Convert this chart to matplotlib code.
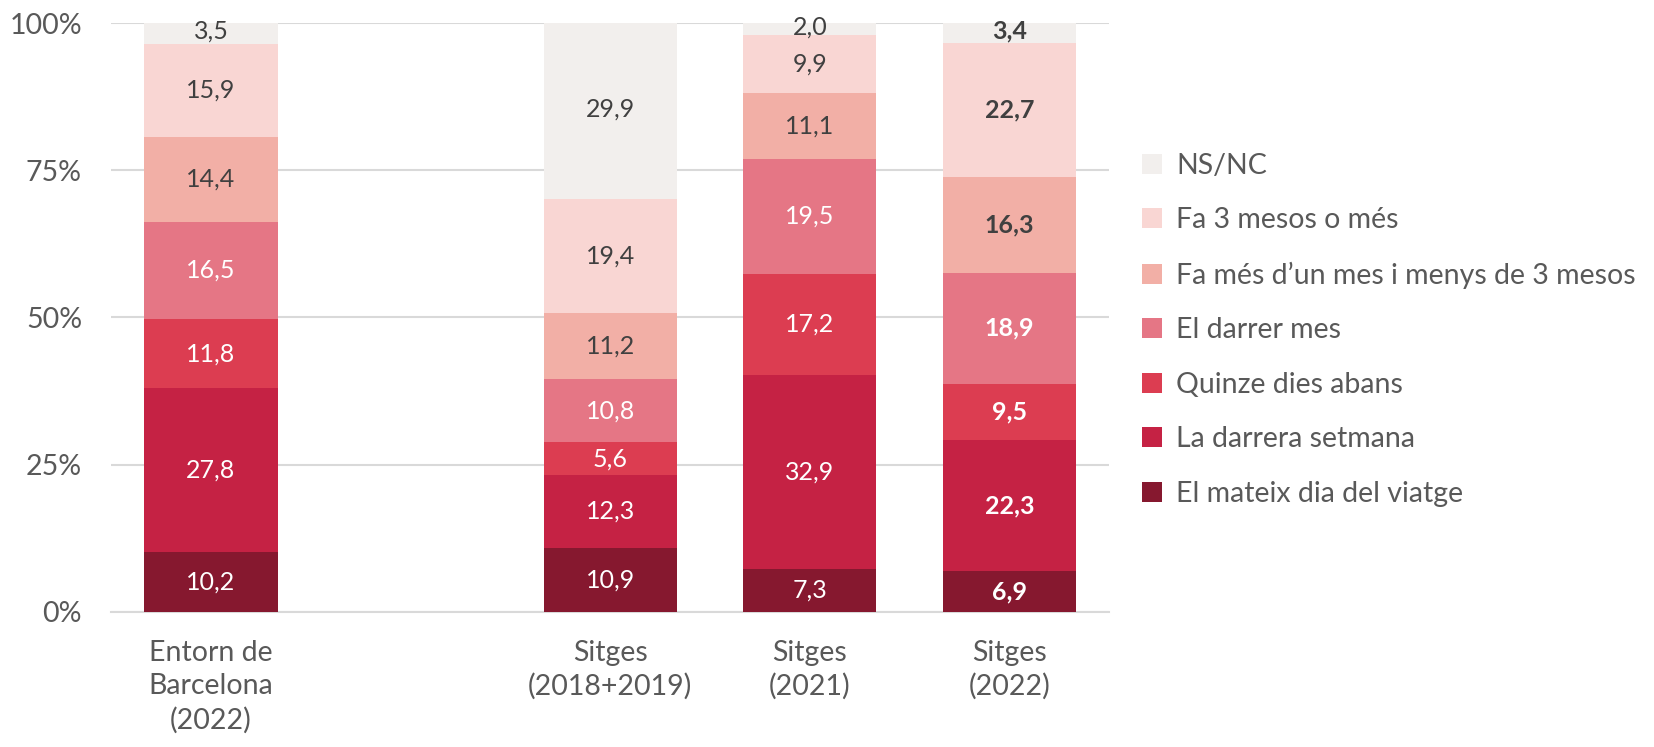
import numpy as np
import matplotlib
matplotlib.use("Agg")
import matplotlib.pyplot as plt
from matplotlib.patches import Patch

plt.rcParams['font.family'] = ['Lato', 'DejaVu Sans']

categories = ["Entorn de\nBarcelona\n(2022)", "", "Sitges\n(2018+2019)", "Sitges\n(2021)", "Sitges\n(2022)"]
series = ["El mateix dia del viatge", "La darrera setmana", "Quinze dies abans",
          "El darrer mes", "Fa més d’un mes i menys de 3 mesos", "Fa 3 mesos o més", "NS/NC"]
mateix_dia = [10.2, None, 10.9, 7.3, 6.9]
darrera_setmana = [27.8, None, 12.3, 32.9, 22.3]
quinze_dies = [11.8, None, 5.6, 17.2, 9.5]
darrer_mes = [16.5, None, 10.8, 19.5, 18.9]
mes_un_mes = [14.4, None, 11.2, 11.1, 16.3]
tres_mesos = [15.9, None, 19.4, 9.9, 22.7]
nsnc = [3.5, None, 29.9, 2.0, 3.4]

colors = ["#86182F", "#C52244", "#DC3D51", "#E57685", "#F2AFA6", "#F9D6D3", "#F2EFED"]
text_colors = ["white", "white", "white", "white", "#404040", "#404040", "#404040"]

data = [mateix_dia, darrera_setmana, quinze_dies, darrer_mes, mes_un_mes, tres_mesos, nsnc]

fig = plt.figure(figsize=(16.54, 7.47), dpi=100)
ax = fig.add_axes([0.0672, 0.181, 0.6035, 0.788])

idx = [i for i in range(len(categories)) if data[0][i] is not None]
vals = np.array([[data[s][i] for i in idx] for s in range(len(series))], dtype=float)
totals = vals.sum(axis=0)
pct = vals / totals * 100
x = np.array(idx, dtype=float)
bottom = np.zeros(len(idx))
width = 0.667
for s in range(len(series)):
    ax.bar(x, pct[s], width, bottom=bottom, color=colors[s], edgecolor='none', zorder=3)
    for j, i in enumerate(idx):
        bold = (categories[i] == "Sitges\n(2022)")
        y = bottom[j] + pct[s][j] / 2
        if s == len(series) - 1:
            y = bottom[j] + pct[s][j] / 2 + 0.4
        ax.text(x[j], y, f"{vals[s][j]:.1f}".replace('.', ','),
                ha='center', va='center', fontsize=18, color=text_colors[s],
                fontweight='bold' if bold else 'normal', zorder=4)
    bottom += pct[s]

ax.set_xlim(-0.5, 4.5)
ax.set_ylim(0, 100)
ax.set_yticks([0, 25, 50, 75, 100])
ax.set_yticklabels(["0%", "25%", "50%", "75%", "100%"])
ax.set_xticks(range(len(categories)))
ax.set_xticklabels(categories, linespacing=1.35)
ax.tick_params(axis='both', length=0, labelsize=20.5, colors='#595959')
ax.tick_params(axis='x', pad=20)
ax.tick_params(axis='y', pad=21)
ax.grid(axis='y', color='#D9D9D9', linewidth=1.5, zorder=0)
for sp in ['top', 'right', 'left']:
    ax.spines[sp].set_visible(False)
ax.spines['bottom'].set_color('#D9D9D9')
ax.spines['bottom'].set_linewidth(1.5)

handles = [Patch(facecolor=colors[s], edgecolor='none', label=series[s]) for s in range(len(series))][::-1]
leg = fig.legend(handles=handles, loc='upper left', bbox_to_anchor=(0.675, 0.830),
                 frameon=False, fontsize=20.5, handlelength=0.7, handleheight=0.7,
                 handletextpad=0.5, labelspacing=1.0, labelcolor='#595959')

fig.savefig("out.png", dpi=100)
